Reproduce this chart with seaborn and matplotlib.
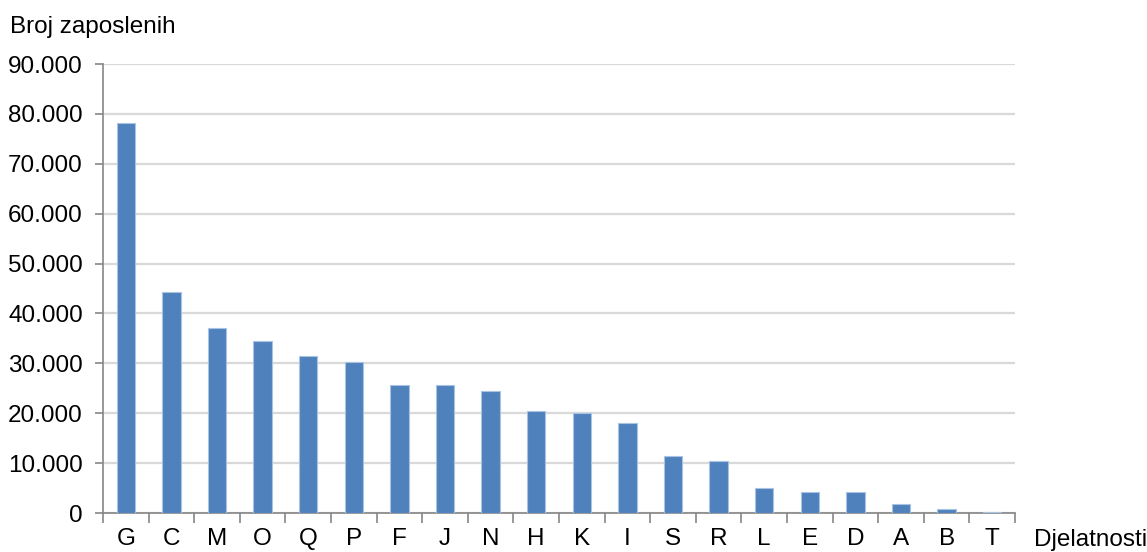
import matplotlib
matplotlib.use("Agg")
import matplotlib.pyplot as plt
from matplotlib.ticker import FuncFormatter, FixedLocator
import seaborn as sns
import pandas as pd

categories = ["G", "C", "M", "O", "Q", "P", "F", "J", "N", "H", "K", "I", "S", "R", "L", "E", "D", "A", "B", "T"]
employees = [78200, 44200, 37100, 34500, 31500, 30200, 25700, 25600, 24500, 20500,
             20100, 18100, 11500, 10400, 5050, 4300, 4150, 1800, 850, 250]
y_ticks = [0, 10000, 20000, 30000, 40000, 50000, 60000, 70000, 80000, 90000]

sns.set_style("white")
plt.rcParams['font.family'] = ['Liberation Sans', 'DejaVu Sans']
plt.rcParams['text.color'] = 'black'
plt.rcParams['xtick.color'] = 'black'
plt.rcParams['ytick.color'] = 'black'

df = pd.DataFrame({"Djelatnost": categories, "Broj": employees})

fig = plt.figure(figsize=(11.47, 5.52), dpi=100)
ax = fig.add_axes([103/1147, 39/552, (1015-103)/1147, (513-64)/552])

sns.barplot(data=df, x="Djelatnost", y="Broj", color="#4F81BD", saturation=1,
            width=0.4, edgecolor="#A9C3E3", linewidth=0.8, ax=ax, zorder=3)

ax.set_ylim(0, 90000)
ax.set_xlim(-0.5, len(categories) - 0.5)
ax.set_yticks(y_ticks)
ax.yaxis.set_major_formatter(FuncFormatter(lambda v, p: f"{int(v):,}".replace(",", ".")))
ax.yaxis.grid(True, color="#D9D9D9", linewidth=1.6, zorder=0)
ax.set_axisbelow(True)

for s in ["top", "right"]:
    ax.spines[s].set_visible(False)
for s in ["left", "bottom"]:
    ax.spines[s].set_color("#868686")
    ax.spines[s].set_linewidth(1.2)

fs = 17.5
ax.tick_params(axis="y", which="major", length=6, width=1.2, color="#868686",
               labelcolor="black", labelsize=fs, pad=8.5, left=True)
ax.tick_params(axis="x", which="major", length=0, labelsize=fs, labelcolor="black", pad=11)
ax.xaxis.set_minor_locator(FixedLocator([i - 0.5 for i in range(len(categories) + 1)]))
ax.tick_params(axis="x", which="minor", length=7, width=1.2, color="#868686", bottom=True)

ax.set_xlabel("")
ax.set_ylabel("")

fig.text(10/1147, 1 - 27/552, "Broj zaposlenih", fontsize=fs, va="center", ha="left", color="black")
fig.text(1034/1147, 1 - 540/552, "Djelatnosti", fontsize=fs, va="center", ha="left", color="black")

fig.savefig("out.png", dpi=100)
